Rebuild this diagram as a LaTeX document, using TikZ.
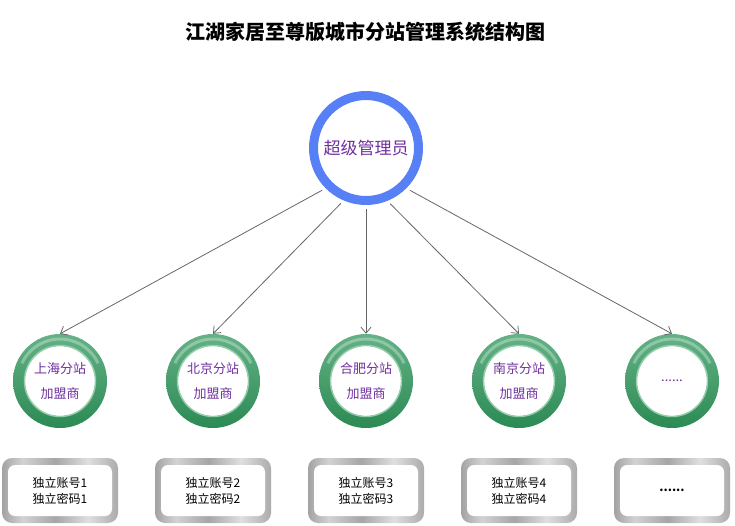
\documentclass[tikz,border=0pt]{standalone}
\usepackage{fontspec}
\setmainfont{Noto Sans CJK SC}
\usepackage{xcolor}
\usepackage{tikz}
\usetikzlibrary{arrows.meta, calc}

\definecolor{adminblue}{RGB}{88,128,246}
\definecolor{labelpurple}{RGB}{112,48,160}
\definecolor{ringlight}{RGB}{100,178,134}
\definecolor{ringdark}{RGB}{44,138,84}
\definecolor{ringedge}{RGB}{150,205,170}
\pgfdeclarehorizontalshading{metal}{100bp}{color(0bp)=(gray!95); color(22bp)=(gray!85); color(34bp)=(gray!35); color(48bp)=(gray!70); color(62bp)=(gray!25); color(78bp)=(gray!75); color(100bp)=(gray!95)}

\begin{document}
\begin{tikzpicture}[x=1pt, y=1pt,
    station/.style={circle, minimum size=94pt, inner sep=0pt, top color=ringlight, bottom color=ringdark,
        text=labelpurple, align=center, font={\fontsize{13pt}{25pt}\selectfont},
        path picture={
            \draw[white, opacity=0.3, line width=3pt] ($(path picture bounding box.center)+(25:42pt)$) arc[start angle=25, end angle=155, radius=42pt];
            \fill[white] (path picture bounding box.center) circle (35pt);
            \draw[ringedge, line width=1.4pt] (path picture bounding box.center) circle (35.5pt);
        }},
    idbox/.style={rectangle, rounded corners=10pt, minimum width=116pt, minimum height=65pt, inner sep=0pt,
        shading=metal, align=center, font={\fontsize{12pt}{16pt}\selectfont},
        path picture={
            \fill[white, rounded corners=7pt] ([shift={(6pt,-7pt)}]path picture bounding box.north west) rectangle ([shift={(-6pt,7pt)}]path picture bounding box.south east);
        }},
    link/.style={draw=gray!80!black, line width=0.8pt, shorten <=4pt, -{Straight Barb[length=6pt, width=10pt]}}]

    \useasboundingbox (0,0) rectangle (735,525);

    \node[font={\bfseries\fontsize{20pt}{24pt}\selectfont}] (title) at (365,493) {江湖家居至尊版城市分站管理系统结构图};

    \node[circle, draw=adminblue, line width=9pt, fill=white, minimum size=105pt, inner sep=0pt,
          text=labelpurple, font={\fontsize{17pt}{20pt}\selectfont}] (admin) at (366,377) {超级管理员};

    \foreach \i/\xpos/\ang/\txt/\acct in {1/60/225/{上海分站\\加盟商}/{独立账号1\\独立密码1},
                                          2/213/247.5/{北京分站\\加盟商}/{独立账号2\\独立密码2},
                                          3/366/270/{合肥分站\\加盟商}/{独立账号3\\独立密码3},
                                          4/519/292.5/{南京分站\\加盟商}/{独立账号4\\独立密码4},
                                          5/672/315/{......}/{\textbf{......}}} {
        \node[station] (s\i) at (\xpos,144) {\txt};
        \node[idbox] (b\i) at (\xpos,34.5) {\acct};
        \draw[link] (admin.\ang) -- (s\i.north);
    }
\end{tikzpicture}
\end{document}
